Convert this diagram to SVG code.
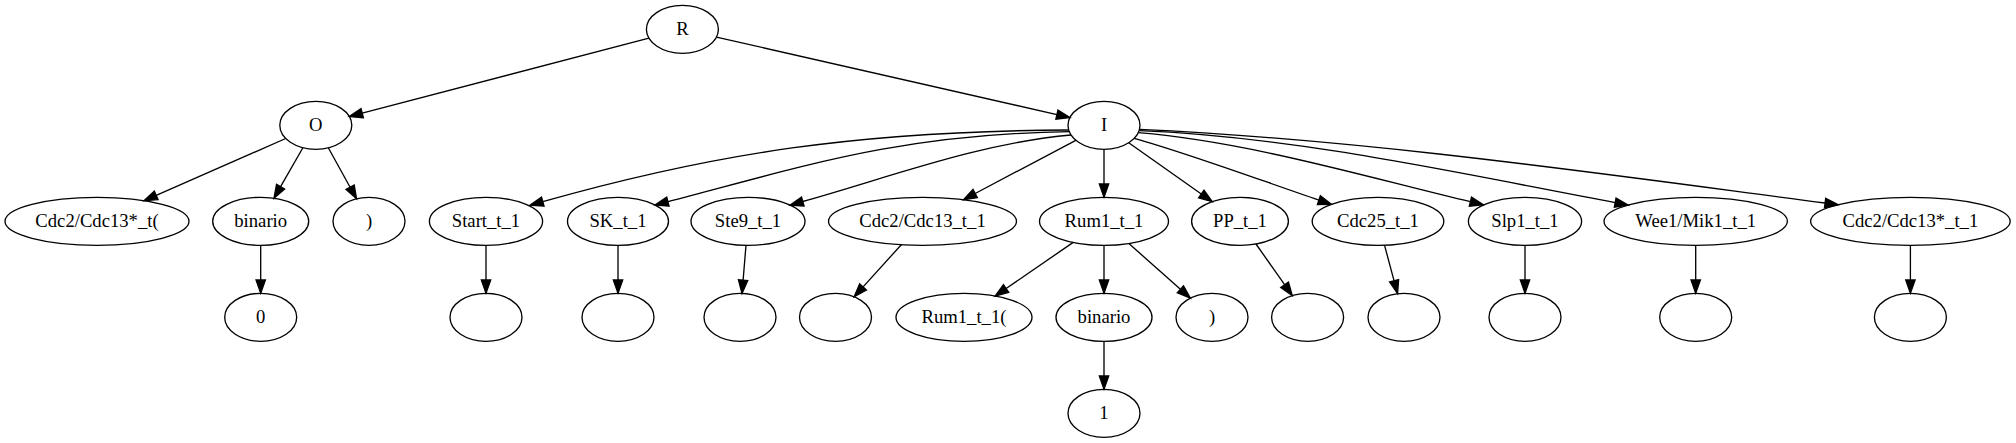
<svg xmlns="http://www.w3.org/2000/svg" width="2016" height="443" viewBox="0 0 2016 443">
<style>
.n ellipse{fill:none;stroke:#000;stroke-width:1.33}
.n text{font-family:"Liberation Serif","Times New Roman",serif;font-size:18.67px;text-anchor:middle;fill:#000}
#edges path{fill:none;stroke:#000;stroke-width:1.33;marker-end:url(#arr)}
</style>
<defs>
<marker id="arr" markerUnits="userSpaceOnUse" viewBox="0 0 16 12" markerWidth="16" markerHeight="12" refX="0" refY="6" orient="auto" overflow="visible">
<path d="M0,1.33 L13.33,6 L0,10.67 Z" fill="#000" stroke="#000" stroke-width="1.33"/>
</marker>
</defs>
<rect width="2016" height="443" fill="#fff"/>
<g id="edges">
<path d="M648.9,38.1 L362.2,113.2"/>
<path d="M716.5,37.1 L1056.9,114.6"/>
<path d="M285.7,138.5 L156.2,195.3"/>
<path d="M302.9,147.75 L280.6,186.7"/>
<path d="M328.3,147.8 L350.1,187.2"/>
<path d="M260.7,245.33 L260.7,280"/>
<path d="M1068.7,130 C860,131 715,153 542.8,201.7"/>
<path d="M1069.3,131.7 C900,134 803.4,166.4 667.9,201.65"/>
<path d="M1071,135 C980,143 889.5,177.2 802.8,201.5"/>
<path d="M1075.8,140.3 L975.2,193.5"/>
<path d="M1104,149.33 L1104,184"/>
<path d="M1128.7,142.8 L1201.3,194"/>
<path d="M1134.3,138.3 C1190,154 1260,180 1318.9,200.1"/>
<path d="M1138.3,132.7 C1250,142 1370,178 1470.4,201.7"/>
<path d="M1139.1,130.7 C1300,137 1467.7,175.2 1615.2,202.6"/>
<path d="M1139.5,129.3 C1370,140 1606.9,174.6 1825.1,203"/>
<path d="M486,245.33 L486,280"/>
<path d="M618,245.33 L618,280"/>
<path d="M746,245.3 L743.1,280.1"/>
<path d="M901.3,244.7 L863.1,286.9"/>
<path d="M1073.2,242.4 L1006.1,288.5"/>
<path d="M1104,245.33 L1104,280"/>
<path d="M1128.9,243.5 L1180.4,289.3"/>
<path d="M1104,341.33 L1104,376"/>
<path d="M1256,244 L1284.6,284.7"/>
<path d="M1384.5,245.2 L1394.1,280.8"/>
<path d="M1525,245.33 L1525,280"/>
<path d="M1695.7,245.33 L1695.7,280"/>
<path d="M1910.4,245.33 L1910.4,280"/>
</g>
<g id="n_R" class="n"><ellipse cx="682.4" cy="29.33" rx="36" ry="24"/><text x="682.4" y="34.9">R</text></g>
<g id="n_O" class="n"><ellipse cx="315.8" cy="125.33" rx="36" ry="24"/><text x="315.8" y="130.9">O</text></g>
<g id="n_I" class="n"><ellipse cx="1104" cy="125.33" rx="36" ry="24"/><text x="1104" y="130.9">I</text></g>
<g id="n_o1" class="n"><ellipse cx="97" cy="221.33" rx="92" ry="24"/><text x="97" y="226.9">Cdc2/Cdc13*_t(</text></g>
<g id="n_o2" class="n"><ellipse cx="260.7" cy="221.33" rx="48" ry="24"/><text x="260.7" y="226.9">binario</text></g>
<g id="n_o3" class="n"><ellipse cx="369" cy="221.33" rx="36" ry="24"/><text x="369" y="226.9">)</text></g>
<g id="n_o2c" class="n"><ellipse cx="260.7" cy="317.33" rx="36" ry="24"/><text x="260.7" y="322.9">0</text></g>
<g id="n_i1" class="n"><ellipse cx="486" cy="221.33" rx="56.6" ry="24"/><text x="486" y="226.9">Start_t_1</text></g>
<g id="n_i1c" class="n"><ellipse cx="486" cy="317.33" rx="36" ry="24"/></g>
<g id="n_i2" class="n"><ellipse cx="618" cy="221.33" rx="50.5" ry="24"/><text x="618" y="226.9">SK_t_1</text></g>
<g id="n_i2c" class="n"><ellipse cx="618" cy="317.33" rx="36" ry="24"/></g>
<g id="n_i3" class="n"><ellipse cx="748" cy="221.33" rx="57" ry="24"/><text x="748" y="226.9">Ste9_t_1</text></g>
<g id="n_i3c" class="n"><ellipse cx="740" cy="317.33" rx="36" ry="24"/></g>
<g id="n_i4" class="n"><ellipse cx="922.5" cy="221.33" rx="94" ry="24"/><text x="922.5" y="226.9">Cdc2/Cdc13_t_1</text></g>
<g id="n_i4c" class="n"><ellipse cx="835.5" cy="317.33" rx="36" ry="24"/></g>
<g id="n_i5" class="n"><ellipse cx="1104" cy="221.33" rx="64.5" ry="24"/><text x="1104" y="226.9">Rum1_t_1</text></g>
<g id="n_i5a" class="n"><ellipse cx="964" cy="317.33" rx="68" ry="24"/><text x="964" y="322.9">Rum1_t_1(</text></g>
<g id="n_i5b" class="n"><ellipse cx="1104" cy="317.33" rx="48" ry="24"/><text x="1104" y="322.9">binario</text></g>
<g id="n_i5bc" class="n"><ellipse cx="1104" cy="413.33" rx="36" ry="24"/><text x="1104" y="418.9">1</text></g>
<g id="n_i5c" class="n"><ellipse cx="1212" cy="317.33" rx="36" ry="24"/><text x="1212" y="322.9">)</text></g>
<g id="n_i6" class="n"><ellipse cx="1240" cy="221.33" rx="48.4" ry="24"/><text x="1240" y="226.9">PP_t_1</text></g>
<g id="n_i6c" class="n"><ellipse cx="1307.6" cy="317.33" rx="36" ry="24"/></g>
<g id="n_i7" class="n"><ellipse cx="1378" cy="221.33" rx="65.8" ry="24"/><text x="1378" y="226.9">Cdc25_t_1</text></g>
<g id="n_i7c" class="n"><ellipse cx="1404" cy="317.33" rx="36" ry="24"/></g>
<g id="n_i8" class="n"><ellipse cx="1525" cy="221.33" rx="56.6" ry="24"/><text x="1525" y="226.9">Slp1_t_1</text></g>
<g id="n_i8c" class="n"><ellipse cx="1525" cy="317.33" rx="36" ry="24"/></g>
<g id="n_i9" class="n"><ellipse cx="1695.7" cy="221.33" rx="91.7" ry="24"/><text x="1695.7" y="226.9">Wee1/Mik1_t_1</text></g>
<g id="n_i9c" class="n"><ellipse cx="1695.7" cy="317.33" rx="36" ry="24"/></g>
<g id="n_i10" class="n"><ellipse cx="1910.4" cy="221.33" rx="99.8" ry="24"/><text x="1910.4" y="226.9">Cdc2/Cdc13*_t_1</text></g>
<g id="n_i10c" class="n"><ellipse cx="1910.4" cy="317.33" rx="36" ry="24"/></g>
</svg>
